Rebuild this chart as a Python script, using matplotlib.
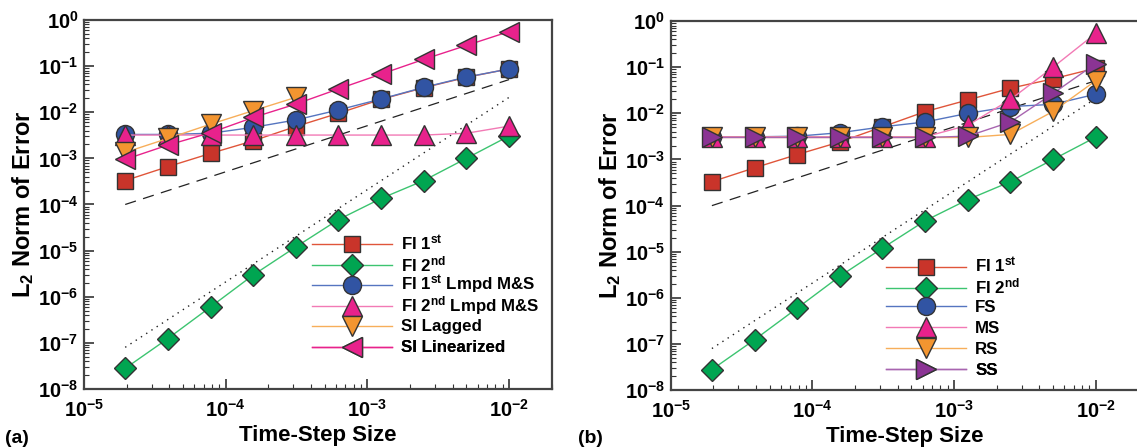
import math
import matplotlib
matplotlib.use('Agg')
import matplotlib.pyplot as plt
from matplotlib.ticker import LogLocator, FuncFormatter, NullFormatter

plt.rcParams['font.family'] = ['Liberation Sans', 'DejaVu Sans']
plt.rcParams['font.weight'] = 'bold'
plt.rcParams['mathtext.fontset'] = 'custom'
plt.rcParams['mathtext.rm'] = 'Liberation Sans:bold'
plt.rcParams['mathtext.bf'] = 'Liberation Sans:bold'
plt.rcParams['mathtext.it'] = 'Liberation Sans:bold'
plt.rcParams['mathtext.default'] = 'bf'

# time-step sizes (halved from 1e-2)
dt = [1.953e-5, 3.906e-5, 7.8125e-5, 1.5625e-4, 3.125e-4,
      6.25e-4, 1.25e-3, 2.5e-3, 5e-3, 1e-2]

# panel (a)
fi1 = [3.3e-4, 6.6e-4, 1.28e-3, 2.4e-3, 4.9e-3, 9.5e-3, 1.9e-2, 3.4e-2, 5.7e-2, 8.7e-2]
fi2 = [2.8e-8, 1.24e-7, 6.0e-7, 2.95e-6, 1.2e-5, 4.7e-5, 1.35e-4, 3.3e-4, 1.0e-3, 3.05e-3]
fi1_lmpd = [3.3e-3, 3.3e-3, 3.5e-3, 4.7e-3, 6.8e-3, 1.12e-2, 1.94e-2, 3.46e-2, 5.8e-2, 8.65e-2]
fi2_lmpd = [3.2e-3, 3.2e-3, 3.2e-3, 3.2e-3, 3.2e-3, 3.2e-3, 3.2e-3, 3.2e-3, 3.5e-3, 5.0e-3]
si_lag_dt = dt[:5]
si_lag = [1.35e-3, 2.7e-3, 5.5e-3, 1.08e-2, 2.1e-2]
si_lin = [9.5e-4, 1.94e-3, 3.6e-3, 7.7e-3, 1.5e-2, 3.2e-2, 6.7e-2, 1.4e-1, 2.8e-1, 5.6e-1]

# panel (b)
fs = [3.1e-3, 3.1e-3, 3.2e-3, 3.8e-3, 5.1e-3, 6.5e-3, 1.0e-2, 1.4e-2, 1.57e-2, 2.6e-2]
ms = [3.1e-3, 3.1e-3, 3.1e-3, 3.1e-3, 3.1e-3, 3.1e-3, 5.5e-3, 2.0e-2, 1.0e-1, 5.4e-1]
rs = [3.0e-3, 3.0e-3, 3.0e-3, 3.0e-3, 3.0e-3, 3.0e-3, 3.0e-3, 3.5e-3, 1.1e-2, 5.1e-2]
ss = [3.0e-3, 3.0e-3, 3.0e-3, 3.0e-3, 3.0e-3, 3.0e-3, 3.2e-3, 6.5e-3, 2.7e-2, 1.2e-1]
fi1_b = [3.3e-4, 6.6e-4, 1.28e-3, 2.4e-3, 5.1e-3, 1.09e-2, 1.95e-2, 3.5e-2, 5.6e-2, 9.5e-2]

# reference slopes (1st and 2nd order), end points
ref_dt = [1.953e-5, 1e-2]
ref1 = [1.0e-4, 5.1e-2]
ref2 = [8.0e-8, 2.1e-2]

RED, RED_L = '#c9342a', '#e0553a'
GRN, GRN_L = '#00a551', '#3cc470'
BLU, BLU_L = '#3154a3', '#5575c0'
PNK, PNK_L = '#e8228c', '#f27ab5'
ORG, ORG_L = '#f39530', '#f7ae5a'
PUR, PUR_L = '#8b3494', '#a865b0'
EDGE = '#333333'


def series(ax, x, y, mk, fc, lc, ms, label):
    line, = ax.plot(x, y, color=lc, lw=1.0, marker=mk, ms=ms, mfc=fc,
                    mec=EDGE, mew=1.0, label=label)
    return line


def style_axes(ax):
    ax.set_xscale('log')
    ax.set_yscale('log')
    ax.set_xlim(1e-5, 2e-2)
    ax.set_ylim(1e-8, 1)
    ax.xaxis.set_major_locator(LogLocator(base=10, numticks=10))
    ax.yaxis.set_major_locator(LogLocator(base=10, numticks=12))
    ax.xaxis.set_minor_locator(LogLocator(base=10, subs=range(2, 10), numticks=20))
    ax.yaxis.set_minor_locator(LogLocator(base=10, subs=range(2, 10), numticks=20))
    ax.xaxis.set_minor_formatter(NullFormatter())
    ax.yaxis.set_minor_formatter(NullFormatter())
    fmt = FuncFormatter(lambda v, p: r'$\mathbf{10^{%d}}$' % round(math.log10(v)))
    ax.xaxis.set_major_formatter(fmt)
    ax.yaxis.set_major_formatter(fmt)
    ax.tick_params(which='both', direction='in', top=False, right=False,
                   color='#333333', labelsize=14.5)
    ax.tick_params(which='major', length=7, width=1.2, pad=4)
    ax.tick_params(axis='x', which='major', pad=7)
    ax.tick_params(which='minor', length=3.5, width=0.8)
    for s in ax.spines.values():
        s.set_linewidth(1.6)
        s.set_color('#444444')
    ax.plot(ref_dt, ref1, color='#222222', lw=0.9, ls=(0, (9, 6)))
    ax.plot(ref_dt, ref2, color='#222222', lw=1.0, ls=(0, (1, 3.5)))
    ax.set_xlabel('Time-Step Size', fontsize=16, fontweight='bold', labelpad=3)
    ax.set_ylabel(r'L$_\mathbf{2}$ Norm of Error', fontsize=17, fontweight='bold', labelpad=1)


def row_legend(ax, lines, x0, y0, dy):
    # one legend per row keeps the row pitch even
    for i, ln in enumerate(lines):
        leg = ax.legend([ln], [ln.get_label()], loc='center left',
                        bbox_to_anchor=(x0, y0 - i * dy), frameon=False,
                        handlelength=4.7, handletextpad=0.55,
                        borderpad=0, borderaxespad=0, numpoints=1,
                        prop={'weight': 'bold', 'size': 12.2})
        ax.add_artist(leg)


fig = plt.figure(figsize=(11.37, 4.48), dpi=100)
ax1 = fig.add_axes([0.0739, 0.1317, 0.4113, 0.8237])
ax2 = fig.add_axes([0.5899, 0.1290, 0.4113, 0.8240])

for ax in (ax1, ax2):
    style_axes(ax)

st = r'$^{\mathbf{st}}$'
nd = r'$^{\mathbf{nd}}$'

lines_a = [
    series(ax1, dt, fi1, 's', RED, RED_L, 12, 'FI 1' + st),
    series(ax1, dt, fi2, 'D', GRN, GRN_L, 11.5, 'FI 2' + nd),
    series(ax1, dt, fi1_lmpd, 'o', BLU, BLU_L, 13, 'FI 1' + st + ' Lmpd M&S'),
    series(ax1, dt, fi2_lmpd, '^', PNK, PNK_L, 14, 'FI 2' + nd + ' Lmpd M&S'),
    series(ax1, si_lag_dt, si_lag, 'v', ORG, ORG_L, 14, 'SI Lagged'),
    series(ax1, dt, si_lin, '<', PNK, PNK, 14, 'SI Linearized'),
]

lines_b = [
    series(ax2, dt, fi1_b, 's', RED, RED_L, 12, 'FI 1' + st),
    series(ax2, dt, fi2, 'D', GRN, GRN_L, 11.5, 'FI 2' + nd),
    series(ax2, dt, fs, 'o', BLU, BLU_L, 13, 'FS'),
    series(ax2, dt, ms, '^', PNK, PNK_L, 14, 'MS'),
    series(ax2, dt, rs, 'v', ORG, ORG_L, 14, 'RS'),
    series(ax2, dt, ss, '>', PUR, PUR_L, 14, 'SS'),
]

row_legend(ax1, lines_a, 0.4875, (389 - 243) / 369.0, 21 / 369.0)
row_legend(ax2, lines_b, 0.4607, (390.7 - 266) / 369.7, 21 / 369.7)

fig.text(0.004, 0.012, '(a)', fontsize=14, fontweight='bold')
fig.text(0.508, 0.012, '(b)', fontsize=14, fontweight='bold')

fig.savefig('out.png', dpi=100)
